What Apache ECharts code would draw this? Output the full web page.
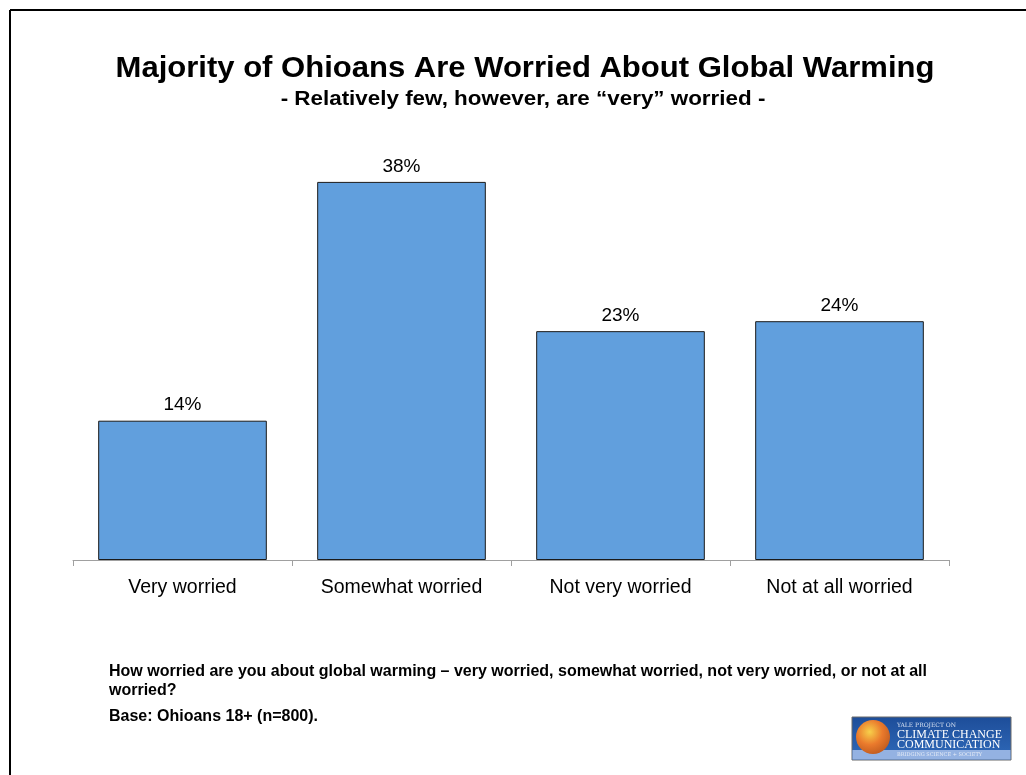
<!DOCTYPE html>
<html>
<head>
<meta charset="utf-8">
<script src="https://cdn.jsdelivr.net/npm/echarts@6/dist/echarts.min.js"></script>
<style>
  html, body { margin: 0; padding: 0; background: #fff; }
  #chart { width: 1026px; height: 775px; }
</style>
</head>
<body>
<div id="chart"></div>
<script>
// Survey responses: how worried Ohioans are about global warming
const categories = ['Very worried', 'Somewhat worried', 'Not very worried', 'Not at all worried'];
const shares = [14, 38, 23, 24];

const titleText = 'Majority of Ohioans Are Worried About Global Warming';
const subtitleText = '- Relatively few, however, are \u201cvery\u201d worried -';
const questionLines = [
  'How worried are you about global warming \u2013 very worried, somewhat worried, not very worried, or not at all',
  'worried?'
];
const baseText = 'Base: Ohioans 18+ (n=800).';

const font = '"Liberation Sans", Arial, Helvetica, sans-serif';
const chart = echarts.init(document.getElementById('chart'));

chart.setOption({
  backgroundColor: '#fff',
  animation: false,
  textStyle: { fontFamily: font },
  grid: { left: 73, right: 77, top: 162, bottom: 215 },
  xAxis: {
    type: 'category',
    data: categories,
    axisLine: { lineStyle: { color: '#a0a0a0', width: 1 } },
    axisTick: { show: true, length: 6, lineStyle: { color: '#a0a0a0' } },
    axisLabel: { fontFamily: font, fontSize: 19.5, color: '#000', margin: 18 }
  },
  yAxis: { type: 'value', min: 0, max: 40, show: false },
  series: [{
    type: 'bar',
    data: shares,
    barWidth: '77%',
    itemStyle: { color: '#619fdd', borderColor: '#1a1a1a', borderWidth: 1 },
    label: {
      show: true,
      position: 'top',
      distance: 6,
      formatter: '{c}%',
      fontFamily: font,
      fontSize: 19,
      color: '#000'
    }
  }],
  graphic: [
    // slide frame (left and top edges)
    { type: 'line', shape: { x1: 10, y1: 10, x2: 1026, y2: 10 }, style: { stroke: '#000', lineWidth: 2 } },
    { type: 'line', shape: { x1: 10, y1: 10, x2: 10, y2: 775 }, style: { stroke: '#000', lineWidth: 2 } },
    // headline and subheading, slightly widened
    { type: 'text', x: 525, y: 69, scaleX: 1.07,
      style: { text: titleText, font: 'bold 29px ' + font, fill: '#000', textAlign: 'center', textVerticalAlign: 'middle' } },
    { type: 'text', x: 523, y: 99, scaleX: 1.12,
      style: { text: subtitleText, font: 'bold 20px ' + font, fill: '#000', textAlign: 'center', textVerticalAlign: 'middle' } },
    // question and base notes
    { type: 'text', x: 109, y: 672,
      style: { text: questionLines[0], font: 'bold 16px ' + font, fill: '#000', textVerticalAlign: 'middle' } },
    { type: 'text', x: 109, y: 691,
      style: { text: questionLines[1], font: 'bold 16px ' + font, fill: '#000', textVerticalAlign: 'middle' } },
    { type: 'text', x: 109, y: 717,
      style: { text: baseText, font: 'bold 16px ' + font, fill: '#000', textVerticalAlign: 'middle' } },
    // project logo
    {
      type: 'group', x: 852, y: 717,
      children: [
        { type: 'rect', shape: { x: 0, y: 0, width: 159, height: 43 },
          style: { fill: new echarts.graphic.LinearGradient(0, 0, 0, 1, [
            { offset: 0, color: '#1d4d99' }, { offset: 0.75, color: '#2b63b2' }, { offset: 1, color: '#3e74bf' }
          ]), stroke: '#6b6b6b', lineWidth: 1 } },
        { type: 'rect', shape: { x: 0.5, y: 33, width: 158, height: 9.5 }, style: { fill: '#94b2e2' } },
        { type: 'circle', shape: { cx: 21, cy: 20, r: 17 },
          style: { fill: new echarts.graphic.RadialGradient(0.4, 0.35, 0.75, [
            { offset: 0, color: '#f7d04a' }, { offset: 0.5, color: '#ea7a2c' }, { offset: 1, color: '#b8561d' }
          ]) } },
        { type: 'text', style: { x: 45, y: 5, text: 'YALE PROJECT ON', font: '6px "DejaVu Serif", serif', fill: '#d8e2f2' } },
        { type: 'text', style: { x: 45, y: 12, text: 'CLIMATE CHANGE', font: '12px "Liberation Serif", serif', fill: '#ffffff' } },
        { type: 'text', style: { x: 45, y: 22, text: 'COMMUNICATION', font: '12px "Liberation Serif", serif', fill: '#ffffff' } },
        { type: 'text', style: { x: 45, y: 35, text: 'BRIDGING SCIENCE + SOCIETY', font: '5px "DejaVu Serif", serif', fill: '#e6ecf7' } }
      ]
    }
  ]
});
</script>
</body>
</html>
